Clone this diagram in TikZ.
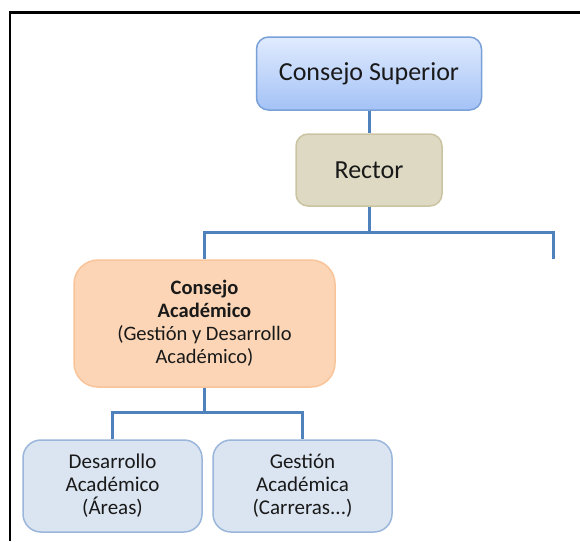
\documentclass[tikz,border=0pt]{standalone}
\usepackage{fontspec}
\setmainfont{Carlito}
\usepackage{xcolor}
\usetikzlibrary{calc}
\definecolor{supTop}{HTML}{E0EBFE}
\definecolor{supBot}{HTML}{A4C2F6}
\definecolor{supLine}{HTML}{7AA0D8}
\definecolor{recFill}{HTML}{DDD9C3}
\definecolor{recLine}{HTML}{CBC4A2}
\definecolor{acaFill}{HTML}{FBD5B5}
\definecolor{acaLine}{HTML}{F9C49A}
\definecolor{subFill}{HTML}{DBE5F1}
\definecolor{subLine}{HTML}{9AB6DA}
\definecolor{myline}{HTML}{4F81BD}
\tikzset{
  box/.style={rounded corners=12pt,line width=1.5pt,inner sep=0pt,
    align=center,text=black!90},
  conn/.style={myline,line width=3pt},
}

\begin{document}
\begin{tikzpicture}[x=1pt,y=-1pt]
  \useasboundingbox (0,0) rectangle (580,541);

  \def\cx{369}
  \def\busA{232}
  \def\busB{412}

  % FRAME
  \draw[line width=2.2pt] (10,541) -- (10,12.5) -- (580,12.5);

  % BOXES
  \node[box,draw=supLine,top color=supTop,bottom color=supBot,
    minimum width=225pt,minimum height=73pt,
    font=\fontsize{26}{30}\selectfont] (sup) at (\cx,73.5) {Consejo Superior};
  \node[box,draw=recLine,fill=recFill,
    minimum width=146pt,minimum height=72pt,
    font=\fontsize{26}{30}\selectfont] (rec) at (\cx,170) {Rector};
  \node[box,draw=acaLine,fill=acaFill,rounded corners=24pt,
    minimum width=261pt,minimum height=127pt,
    font=\fontsize{20.5}{23}\selectfont] (aca) at (204.5,323.5)
    {\textbf{Consejo}\\\textbf{Académico}\\(Gestión y Desarrollo\\Académico)};
  \node[box,draw=subLine,fill=subFill,rounded corners=18pt,
    minimum width=179pt,minimum height=92pt,
    font=\fontsize{21}{23}\selectfont] (des) at (112.5,486)
    {Desarrollo\\Académico\\(Áreas)};
  \node[box,draw=subLine,fill=subFill,rounded corners=18pt,
    minimum width=179pt,minimum height=92pt,
    font=\fontsize{21}{23}\selectfont] (ges) at (302.5,486)
    {Gestión\\Académica\\(Carreras...)};
  \coordinate (libre) at (553,259);

  % LINES
  \draw[conn] (sup) -- (rec);
  \draw[conn] (rec.south) -- ($(rec.south)!1!(\cx,\busA)$) coordinate (bus1);
  \draw[conn] (aca.north) |- (bus1) -| (libre);
  \draw[conn] (aca.south) -- (204.5,\busB) coordinate (bus2);
  \draw[conn] (des.north) |- (bus2) -| (ges.north);

\end{tikzpicture}
\end{document}
